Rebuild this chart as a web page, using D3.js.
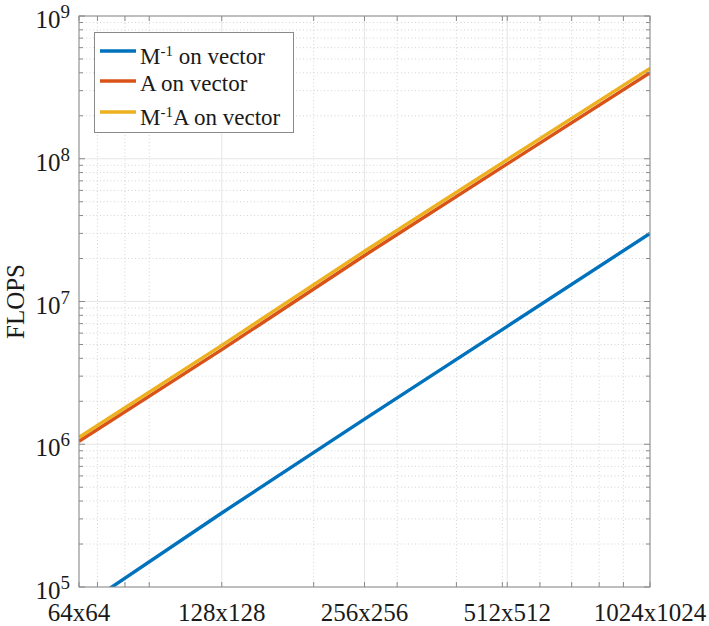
<!DOCTYPE html>
<html><head><meta charset="utf-8">
<script src="https://cdn.jsdelivr.net/npm/d3@7"></script>
<style>body{margin:0;background:#fff}</style>
</head><body><svg id="c" width="709" height="626"></svg>
<script>
const sizes=[64,128,256,512,1024];
const sizeLabels=["64x64","128x128","256x256","512x512","1024x1024"];
const minvVec=[7.0e4,3.3e5,1.5e6,6.7e6,3.0e7];
const aVec=[1.05e6,4.6e6,2.1e7,9.2e7,4.0e8];
const minvAVec=[1.12e6,4.93e6,2.25e7,9.87e7,4.3e8];
const xMinor=[70,80,90,200,300,400,500,600,700,800,900];
const yMajor=[1e5,1e6,1e7,1e8,1e9];
const yExp=["5","6","7","8","9"];
const seriesColors=["#0072BD","#D95319","#EDB120"];
const seriesData=[minvVec,aVec,minvAVec];
const legendParts=[[["M",0],["-1",1],[" on vector",0]],[["A on vector",0]],[["M",0],["-1",1],["A on vector",0]]];

const svg=d3.select("#c");
const L=79,R=650,T=16,B=587;
const x=d3.scaleLog().domain([64,1024]).range([L,R]);
const y=d3.scaleLog().domain([1e5,1e9]).range([B,T]);
const yMinor=[];
for(let e=5;e<9;e++){for(let k=2;k<=9;k++)yMinor.push(k*Math.pow(10,e));}

const font="'Liberation Serif','Times New Roman',serif";
const g=svg.append("g");
g.selectAll(".mgx").data(xMinor).enter().append("line")
 .attr("x1",d=>x(d)).attr("x2",d=>x(d)).attr("y1",T).attr("y2",B)
 .attr("stroke","#d4d4d4").attr("stroke-dasharray","1,2.5").attr("stroke-width",1);
g.selectAll(".mgy").data(yMinor).enter().append("line")
 .attr("y1",d=>y(d)).attr("y2",d=>y(d)).attr("x1",L).attr("x2",R)
 .attr("stroke","#d4d4d4").attr("stroke-dasharray","1,2.5").attr("stroke-width",1);
g.selectAll(".Mgx").data(sizes).enter().append("line")
 .attr("x1",d=>x(d)).attr("x2",d=>x(d)).attr("y1",T).attr("y2",B)
 .attr("stroke","#e6e6e6").attr("stroke-width",1);
g.selectAll(".Mgy").data(yMajor).enter().append("line")
 .attr("y1",d=>y(d)).attr("y2",d=>y(d)).attr("x1",L).attr("x2",R)
 .attr("stroke","#e6e6e6").attr("stroke-width",1);

svg.append("clipPath").attr("id","clip").append("rect").attr("x",L).attr("y",T).attr("width",R-L).attr("height",B-T);
const line=d3.line().x((d,i)=>x(sizes[i])).y(d=>y(d));
seriesData.forEach((s,i)=>{
  svg.append("path").datum(s).attr("d",line).attr("fill","none")
   .attr("stroke",seriesColors[i]).attr("stroke-width",3.4).attr("clip-path","url(#clip)");
});

const ax="#8a8a8a";
svg.append("rect").attr("x",L).attr("y",T).attr("width",R-L).attr("height",B-T)
 .attr("fill","none").attr("stroke",ax).attr("stroke-width",1);
function tk(vals,len,side){
  vals.forEach(v=>{
    if(side==="x"){
      const px=x(v);
      svg.append("line").attr("x1",px).attr("x2",px).attr("y1",B).attr("y2",B-len).attr("stroke",ax);
      svg.append("line").attr("x1",px).attr("x2",px).attr("y1",T).attr("y2",T+len).attr("stroke",ax);
    } else {
      const py=y(v);
      svg.append("line").attr("y1",py).attr("y2",py).attr("x1",L).attr("x2",L+len).attr("stroke",ax);
      svg.append("line").attr("y1",py).attr("y2",py).attr("x1",R).attr("x2",R-len).attr("stroke",ax);
    }
  });
}
tk(sizes,5,"x");tk(xMinor,5,"x");tk(yMajor,6,"y");tk(yMinor,4,"y");

svg.selectAll(".xl").data(sizes).enter().append("text")
 .attr("x",d=>x(d)).attr("y",621).attr("text-anchor","middle")
 .attr("font-family",font).attr("font-size",25).attr("fill","#1a1a1a")
 .text((d,i)=>sizeLabels[i]);
yMajor.forEach((v,i)=>{
  const t=svg.append("text").attr("x",70).attr("y",y(v)+12).attr("text-anchor","end")
   .attr("font-family",font).attr("font-size",25).attr("fill","#1a1a1a");
  t.append("tspan").text("10");
  t.append("tspan").attr("dy",-10).attr("font-size",19).text(yExp[i]);
});
svg.append("text").attr("transform",`translate(24,${(T+B)/2}) rotate(-90)`)
 .attr("text-anchor","middle").attr("font-family",font).attr("font-size",25).attr("fill","#1a1a1a").text("FLOPS");

const lg=svg.append("g");
lg.append("rect").attr("x",94.5).attr("y",32.5).attr("width",199).attr("height",100)
 .attr("fill","#fff").attr("stroke",ax).attr("stroke-width",1);
const rowY=[51,81,112];
legendParts.forEach((parts,i)=>{
  lg.append("line").attr("x1",100).attr("x2",136).attr("y1",rowY[i]).attr("y2",rowY[i])
   .attr("stroke",seriesColors[i]).attr("stroke-width",3.4);
  const t=lg.append("text").attr("x",140).attr("y",rowY[i]+(parts.length>1?13:10))
   .attr("font-family",font).attr("font-size",23).attr("fill","#1a1a1a");
  let sup=false;
  parts.forEach(p=>{
    const ts=t.append("tspan").text(p[0]).style("white-space","pre");
    if(p[1]){ts.attr("dy",-8).attr("font-size",15);sup=true;}
    else if(sup){ts.attr("dy",8);sup=false;}
  });
});
</script></body></html>
